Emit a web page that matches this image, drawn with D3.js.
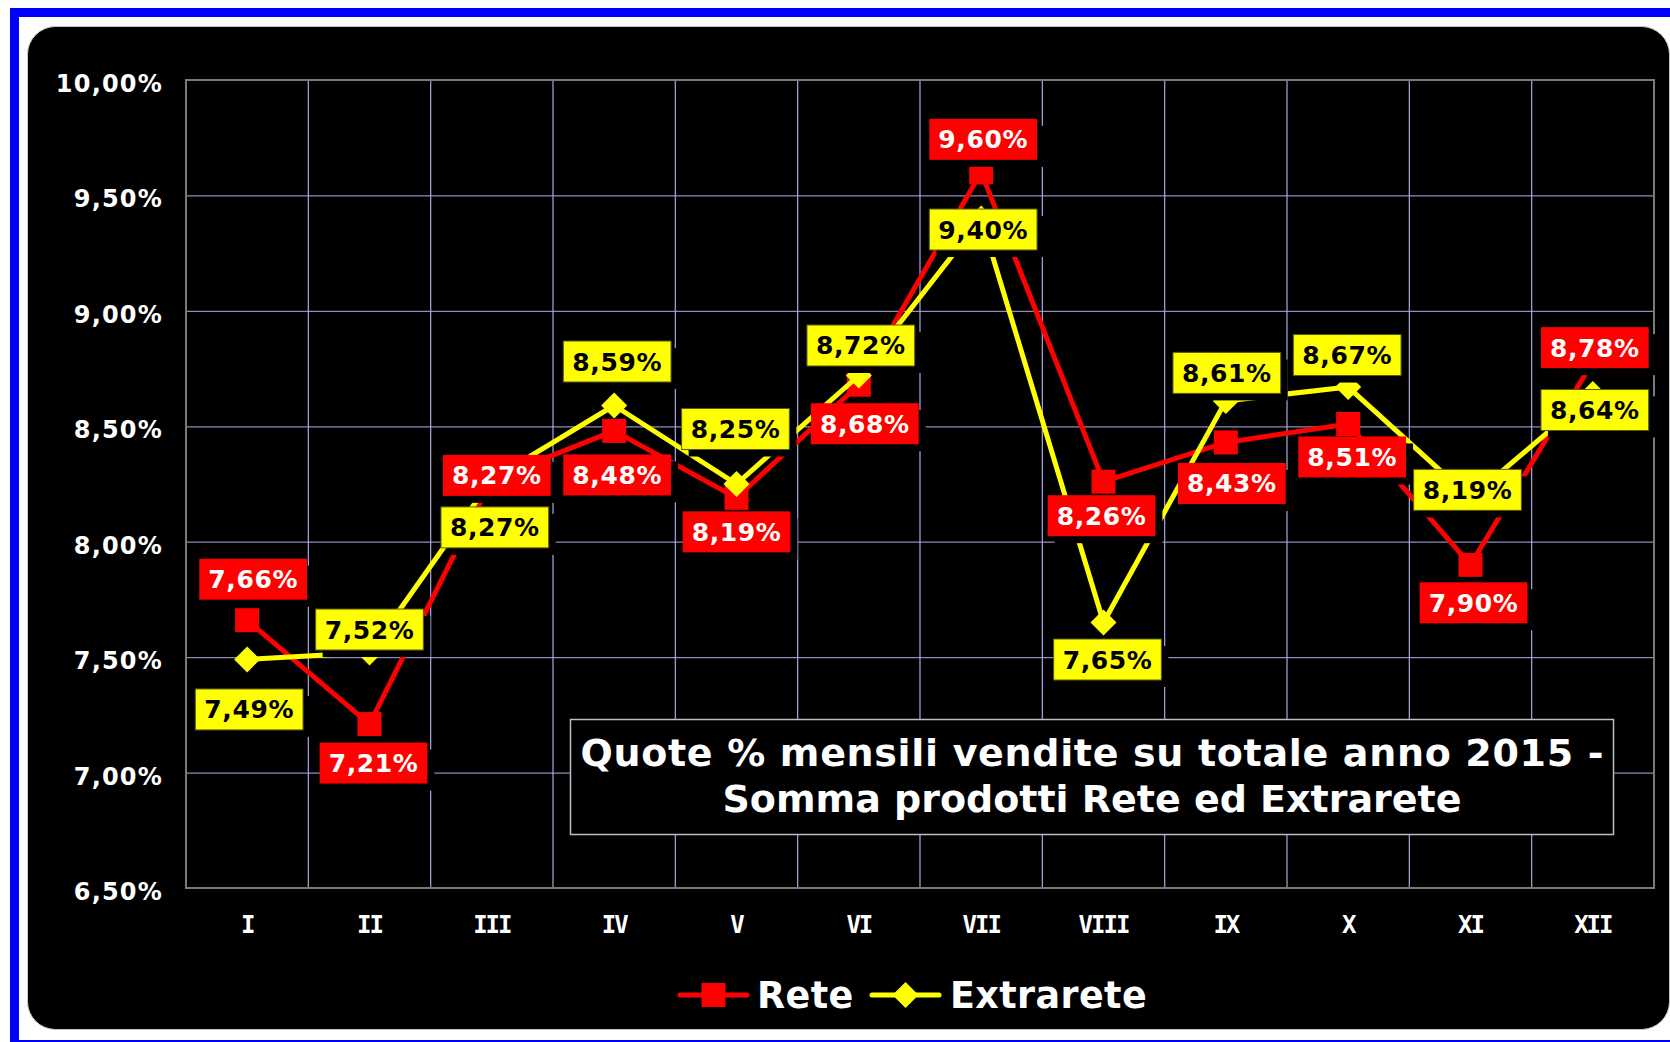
<!DOCTYPE html>
<html>
<head>
<meta charset="utf-8">
<script src="https://cdn.jsdelivr.net/npm/d3@7"></script>
<style>
  html, body { margin: 0; padding: 0; background: #fff; overflow: hidden; }
  svg { display: block; font-family: "DejaVu Sans", Verdana, sans-serif; font-weight: bold; }
</style>
</head>
<body>
<svg id="chart" width="1670" height="1042"></svg>
<script>
'use strict';

var months = ['I', 'II', 'III', 'IV', 'V', 'VI', 'VII', 'VIII', 'IX', 'X', 'XI', 'XII'];
var rete = [7.66, 7.21, 8.27, 8.48, 8.19, 8.68, 9.60, 8.26, 8.43, 8.51, 7.90, 8.78];
var extrarete = [7.49, 7.52, 8.27, 8.59, 8.25, 8.72, 9.40, 7.65, 8.61, 8.67, 8.19, 8.64];
var yTicks = [6.5, 7, 7.5, 8, 8.5, 9, 9.5, 10];
var seriesNames = ['Rete', 'Extrarete'];
var titleLines = ['Quote % mensili vendite su totale anno 2015 -', 'Somma prodotti Rete ed Extrarete'];

// where each data label sits relative to its point, in px (Excel placed them by hand)
var reteLabelShift = [[6, -41], [4, 39], [5, -4], [3, 44], [0, 34], [6, 39], [2, -33], [-2, 34], [6, 41], [4, 33], [3, 38], [2, -14]];
var extraLabelShift = [[2, 50], [0, -23], [3, 48], [3, -44], [-1, -55], [2, -30], [2, 11], [4, 37], [1, -28], [-1, -32], [-3, -8], [2, 16]];

var RED = '#ff0000',
    YELLOW = '#ffff00',
    plot = {left: 186, top: 80, right: 1654, bottom: 888};

var locale = d3.formatLocale({decimal: ',', thousands: '.', grouping: [3], currency: ['', '€']});
var fmt = locale.format('.2f');
function pct(v) { return fmt(v) + '%'; }

var svg = d3.select('#chart');

// frame: blue border + black rounded panel
svg.append('rect')
  .attr('x', 14.5).attr('y', 12.5)
  .attr('width', 1690).attr('height', 1032)
  .attr('fill', 'none').attr('stroke', '#0000ff').attr('stroke-width', 9);

svg.append('rect')
  .attr('x', 27.5).attr('y', 26.5)
  .attr('width', 1642).attr('height', 1003).attr('rx', 28)
  .attr('fill', '#000').attr('stroke', '#c8c8c8').attr('stroke-width', 1);

var x = d3.scaleBand().domain(months).range([plot.left, plot.right]);
var y = d3.scaleLinear().domain([6.5, 10]).range([plot.bottom, plot.top]);
function cx(i) { return x(months[i]) + x.bandwidth() / 2; }

// horizontal gridlines
svg.append('g')
  .attr('transform', 'translate(' + plot.left + ',0)')
  .call(d3.axisLeft(y).tickValues(yTicks).tickSize(-(plot.right - plot.left)).tickFormat(''))
  .call(function (g) {
    g.select('.domain').remove();
    g.selectAll('line').attr('stroke', '#8c8cc0').attr('stroke-width', 1.2);
  });

// vertical gridlines between months
svg.append('g').selectAll('line')
  .data(months.slice(1))
  .join('line')
  .attr('x1', function (d) { return x(d); })
  .attr('x2', function (d) { return x(d); })
  .attr('y1', plot.top).attr('y2', plot.bottom)
  .attr('stroke', '#a8a8e8').attr('stroke-width', 1.2);

// plot border
svg.append('rect')
  .attr('x', plot.left).attr('y', plot.top)
  .attr('width', plot.right - plot.left).attr('height', plot.bottom - plot.top)
  .attr('fill', 'none').attr('stroke', '#7a7a7a').attr('stroke-width', 2);

// y axis labels
svg.append('g')
  .attr('transform', 'translate(' + plot.left + ',0)')
  .call(d3.axisLeft(y).tickValues(yTicks).tickSize(0).tickPadding(23).tickFormat(pct))
  .call(function (g) {
    g.select('.domain').remove();
    g.selectAll('text')
      .attr('fill', '#fff')
      .attr('dy', null).attr('y', 11.5)
      .style('font-size', '24px')
      .style('letter-spacing', '1.2px')
      .style('font-family', '"DejaVu Sans", Verdana, sans-serif')
      .style('font-weight', 'bold');
  });

// x axis labels
svg.append('g')
  .attr('transform', 'translate(0,' + plot.bottom + ')')
  .call(d3.axisBottom(x).tickSize(0))
  .call(function (g) {
    g.select('.domain').remove();
    g.selectAll('text')
      .attr('fill', '#fff')
      .attr('dy', null).attr('y', 45)
      .style('font-size', '24px')
      .style('letter-spacing', '-2px')
      .style('font-family', '"DejaVu Sans Mono", monospace')
      .style('font-weight', 'bold');
  });

// series
var line = d3.line()
  .x(function (d, i) { return cx(i); })
  .y(function (d) { return y(d); });

svg.append('path')
  .datum(rete)
  .attr('d', line)
  .attr('fill', 'none').attr('stroke', RED).attr('stroke-width', 5)
  .attr('stroke-linejoin', 'round');

svg.append('g').selectAll('rect')
  .data(rete)
  .join('rect')
  .attr('x', function (d, i) { return cx(i) - 12; })
  .attr('y', function (d) { return y(d) - 12; })
  .attr('width', 24).attr('height', 24)
  .attr('fill', RED);

svg.append('path')
  .datum(extrarete)
  .attr('d', line)
  .attr('fill', 'none').attr('stroke', YELLOW).attr('stroke-width', 5)
  .attr('stroke-linejoin', 'round');

var diamond = 'M0,-13L13,0L0,13L-13,0Z';

svg.append('g').selectAll('path')
  .data(extrarete)
  .join('path')
  .attr('d', diamond)
  .attr('transform', function (d, i) { return 'translate(' + cx(i) + ',' + y(d) + ')'; })
  .attr('fill', YELLOW);

// data labels: coloured box with a black shadow that hides what lies behind
function drawLabels(values, shifts, fill, textColor, edge) {
  var g = svg.append('g');
  values.forEach(function (v, i) {
    var lx = cx(i) + shifts[i][0],
        ly = y(v) + shifts[i][1];
    var label = g.append('g').attr('transform', 'translate(' + lx + ',' + ly + ')');
    var text = label.append('text')
      .attr('text-anchor', 'middle')
      .attr('y', 9)
      .attr('fill', textColor)
      .style('font-size', '25px')
      .style('letter-spacing', '0.6px')
      .text(pct(v));
    var w = text.node().getComputedTextLength() + 18,
        h = 41;
    label.insert('rect', 'text')
      .attr('x', -w / 2 + 7).attr('y', -h / 2 + 7)
      .attr('width', w).attr('height', h)
      .attr('fill', '#000');
    label.insert('rect', 'text')
      .attr('x', -w / 2).attr('y', -h / 2)
      .attr('width', w).attr('height', h)
      .attr('fill', fill)
      .attr('stroke', edge).attr('stroke-width', edge === 'none' ? 0 : 1);
  });
}

drawLabels(rete, reteLabelShift, RED, '#fff', 'none');
drawLabels(extrarete, extraLabelShift, YELLOW, '#000', '#5a5a00');

// title box
svg.append('rect')
  .attr('x', 570.5).attr('y', 719.5)
  .attr('width', 1043).attr('height', 115)
  .attr('fill', '#000').attr('stroke', '#bdbdbd').attr('stroke-width', 1.5);

var titleWidths = [1023, 739];

svg.append('g').selectAll('text')
  .data(titleLines)
  .join('text')
  .attr('x', 1092)
  .attr('y', function (d, i) { return 766 + i * 46; })
  .attr('text-anchor', 'middle')
  .attr('textLength', function (d, i) { return titleWidths[i]; })
  .attr('lengthAdjust', 'spacing')
  .attr('fill', '#fff')
  .style('font-size', '38px')
  .text(function (d) { return d; });

// legend
var legendItems = [
  {name: seriesNames[0], color: RED, x: 680, textX: 757, marker: 'square'},
  {name: seriesNames[1], color: YELLOW, x: 872, textX: 950, marker: 'diamond'}
];

var legend = svg.append('g').selectAll('g')
  .data(legendItems)
  .join('g');

legend.append('line')
  .attr('x1', function (d) { return d.x; })
  .attr('x2', function (d) { return d.x + 67; })
  .attr('y1', 995).attr('y2', 995)
  .attr('stroke', function (d) { return d.color; })
  .attr('stroke-width', 5)
  .attr('stroke-linecap', 'round');

legend.append('path')
  .attr('d', function (d) { return d.marker === 'square' ? 'M-12,-12H12V12H-12Z' : diamond; })
  .attr('transform', function (d) { return 'translate(' + (d.x + 33.5) + ',995)'; })
  .attr('fill', function (d) { return d.color; });

legend.append('text')
  .attr('x', function (d) { return d.textX; })
  .attr('y', 1008)
  .attr('fill', '#fff')
  .style('font-size', '36.5px')
  .style('letter-spacing', '0.4px')
  .text(function (d) { return d.name; });
</script>
</body>
</html>
